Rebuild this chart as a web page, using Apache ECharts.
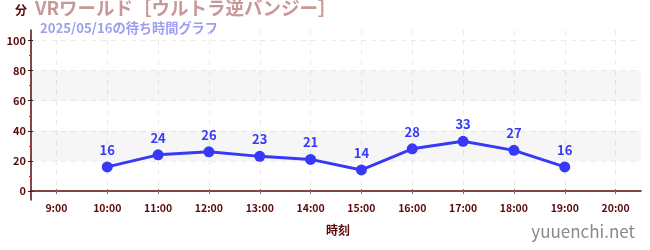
<!DOCTYPE html>
<html><head><meta charset="utf-8">
<script src="https://cdn.jsdelivr.net/npm/echarts@6/dist/echarts.min.js"></script>
<style>html,body{margin:0;padding:0;background:#fff}#c{width:650px;height:250px}</style>
</head><body><div id="c"></div>
<script>
const hours = [10, 11, 12, 13, 14, 15, 16, 17, 18, 19];
const waits = [16, 24, 26, 23, 21, 14, 28, 33, 27, 16];
const xTicks = [9, 10, 11, 12, 13, 14, 15, 16, 17, 18, 19, 20];
const yTicks = [0, 20, 40, 60, 80, 100];
const yMinor = [10, 30, 50, 70, 90];
const bands = [[20, 40], [60, 80]];
const titleText = 'VRワールド［ウルトラ逆バンジー］';
const subText = '2025/05/16の待ち時間グラフ';

const F = '"Noto Sans CJK JP", "Noto Sans", sans-serif';
const axisColor = '#5a0a0a';
const chart = echarts.init(document.getElementById('c'));
const grid = {left: 31, right: 9, top: 30, bottom: 50};
const yBase = {type: 'value', min: -6, max: 107, position: 'left'};
const xBase = {type: 'value', min: 8.5, max: 20.5, position: 'bottom'};
chart.setOption({
  animation: false,
  textStyle: {fontFamily: F},
  grid: grid,
  graphic: [
    {type: 'text', left: 15, top: 4, style: {text: '分', fontFamily: F, fontSize: 12, fontWeight: 'bold', fill: axisColor}},
    {type: 'text', left: 35, top: -1, style: {text: titleText, fontFamily: F, fontSize: 18.5, fontWeight: 'bold', fill: '#c89898'}},
    {type: 'text', left: 40, top: 21, style: {text: subText, fontFamily: F, fontSize: 13.2, fontWeight: 'bold', fill: '#9e9ef0'}},
    {type: 'text', left: 326, top: 224, style: {text: '時刻', fontFamily: F, fontSize: 12, fontWeight: 'bold', fill: axisColor}},
    {type: 'text', right: 15, top: 223, style: {text: 'yuuenchi.net', fontFamily: F, fontSize: 17, fill: '#8a8a8a'}}
  ],
  xAxis: [
    Object.assign({}, xBase, {
      axisLine: {show: true, lineStyle: {color: axisColor, width: 1.5}},
      axisTick: {show: true, customValues: xTicks, length: 3, lineStyle: {color: '#777'}},
      axisLabel: {customValues: xTicks, formatter: v => v + ':00', color: axisColor, fontSize: 10.5, fontWeight: 'bold', margin: 3, fontFamily: F},
      splitLine: {show: true, lineStyle: {color: '#ebebeb', type: [5, 5]}}
    }),
    Object.assign({}, xBase, {
      axisLine: {show: false},
      axisTick: {show: true, inside: true, customValues: xTicks, length: 2, lineStyle: {color: '#777'}},
      axisLabel: {show: false}, splitLine: {show: false}
    })
  ],
  yAxis: [
    Object.assign({}, yBase, {
      axisLine: {show: true, lineStyle: {color: axisColor, width: 1.5}},
      axisTick: {show: true, customValues: yTicks, length: 3, lineStyle: {color: '#222'}},
      axisLabel: {customValues: yTicks, color: axisColor, fontSize: 11, fontWeight: 'bold', margin: 5, fontFamily: F},
      splitLine: {show: true, lineStyle: {color: '#ebebeb', type: [5, 5]}}
    }),
    Object.assign({}, yBase, {
      axisLine: {show: false},
      axisTick: {show: true, inside: true, customValues: yTicks, length: 2, lineStyle: {color: '#222'}},
      axisLabel: {show: false}, splitLine: {show: false}
    }),
    Object.assign({}, yBase, {
      axisLine: {show: false},
      axisTick: {show: true, customValues: yMinor, length: 2, lineStyle: {color: '#e02020'}},
      axisLabel: {show: false}, splitLine: {show: false}
    })
  ],
  series: [{
    type: 'line',
    data: hours.map((h, i) => [h, waits[i]]),
    symbol: 'circle', symbolSize: 11,
    lineStyle: {color: '#3838f8', width: 3},
    itemStyle: {color: '#3838f8'},
    label: {show: true, position: 'top', distance: 5, color: '#3838f8', fontSize: 13, fontWeight: 'bold', fontFamily: F},
    markArea: {
      silent: true,
      itemStyle: {color: 'rgba(0,0,0,0.035)'},
      data: bands.map(b => [{yAxis: b[0]}, {yAxis: b[1]}])
    },
    z: 5
  }]
});
</script></body></html>
